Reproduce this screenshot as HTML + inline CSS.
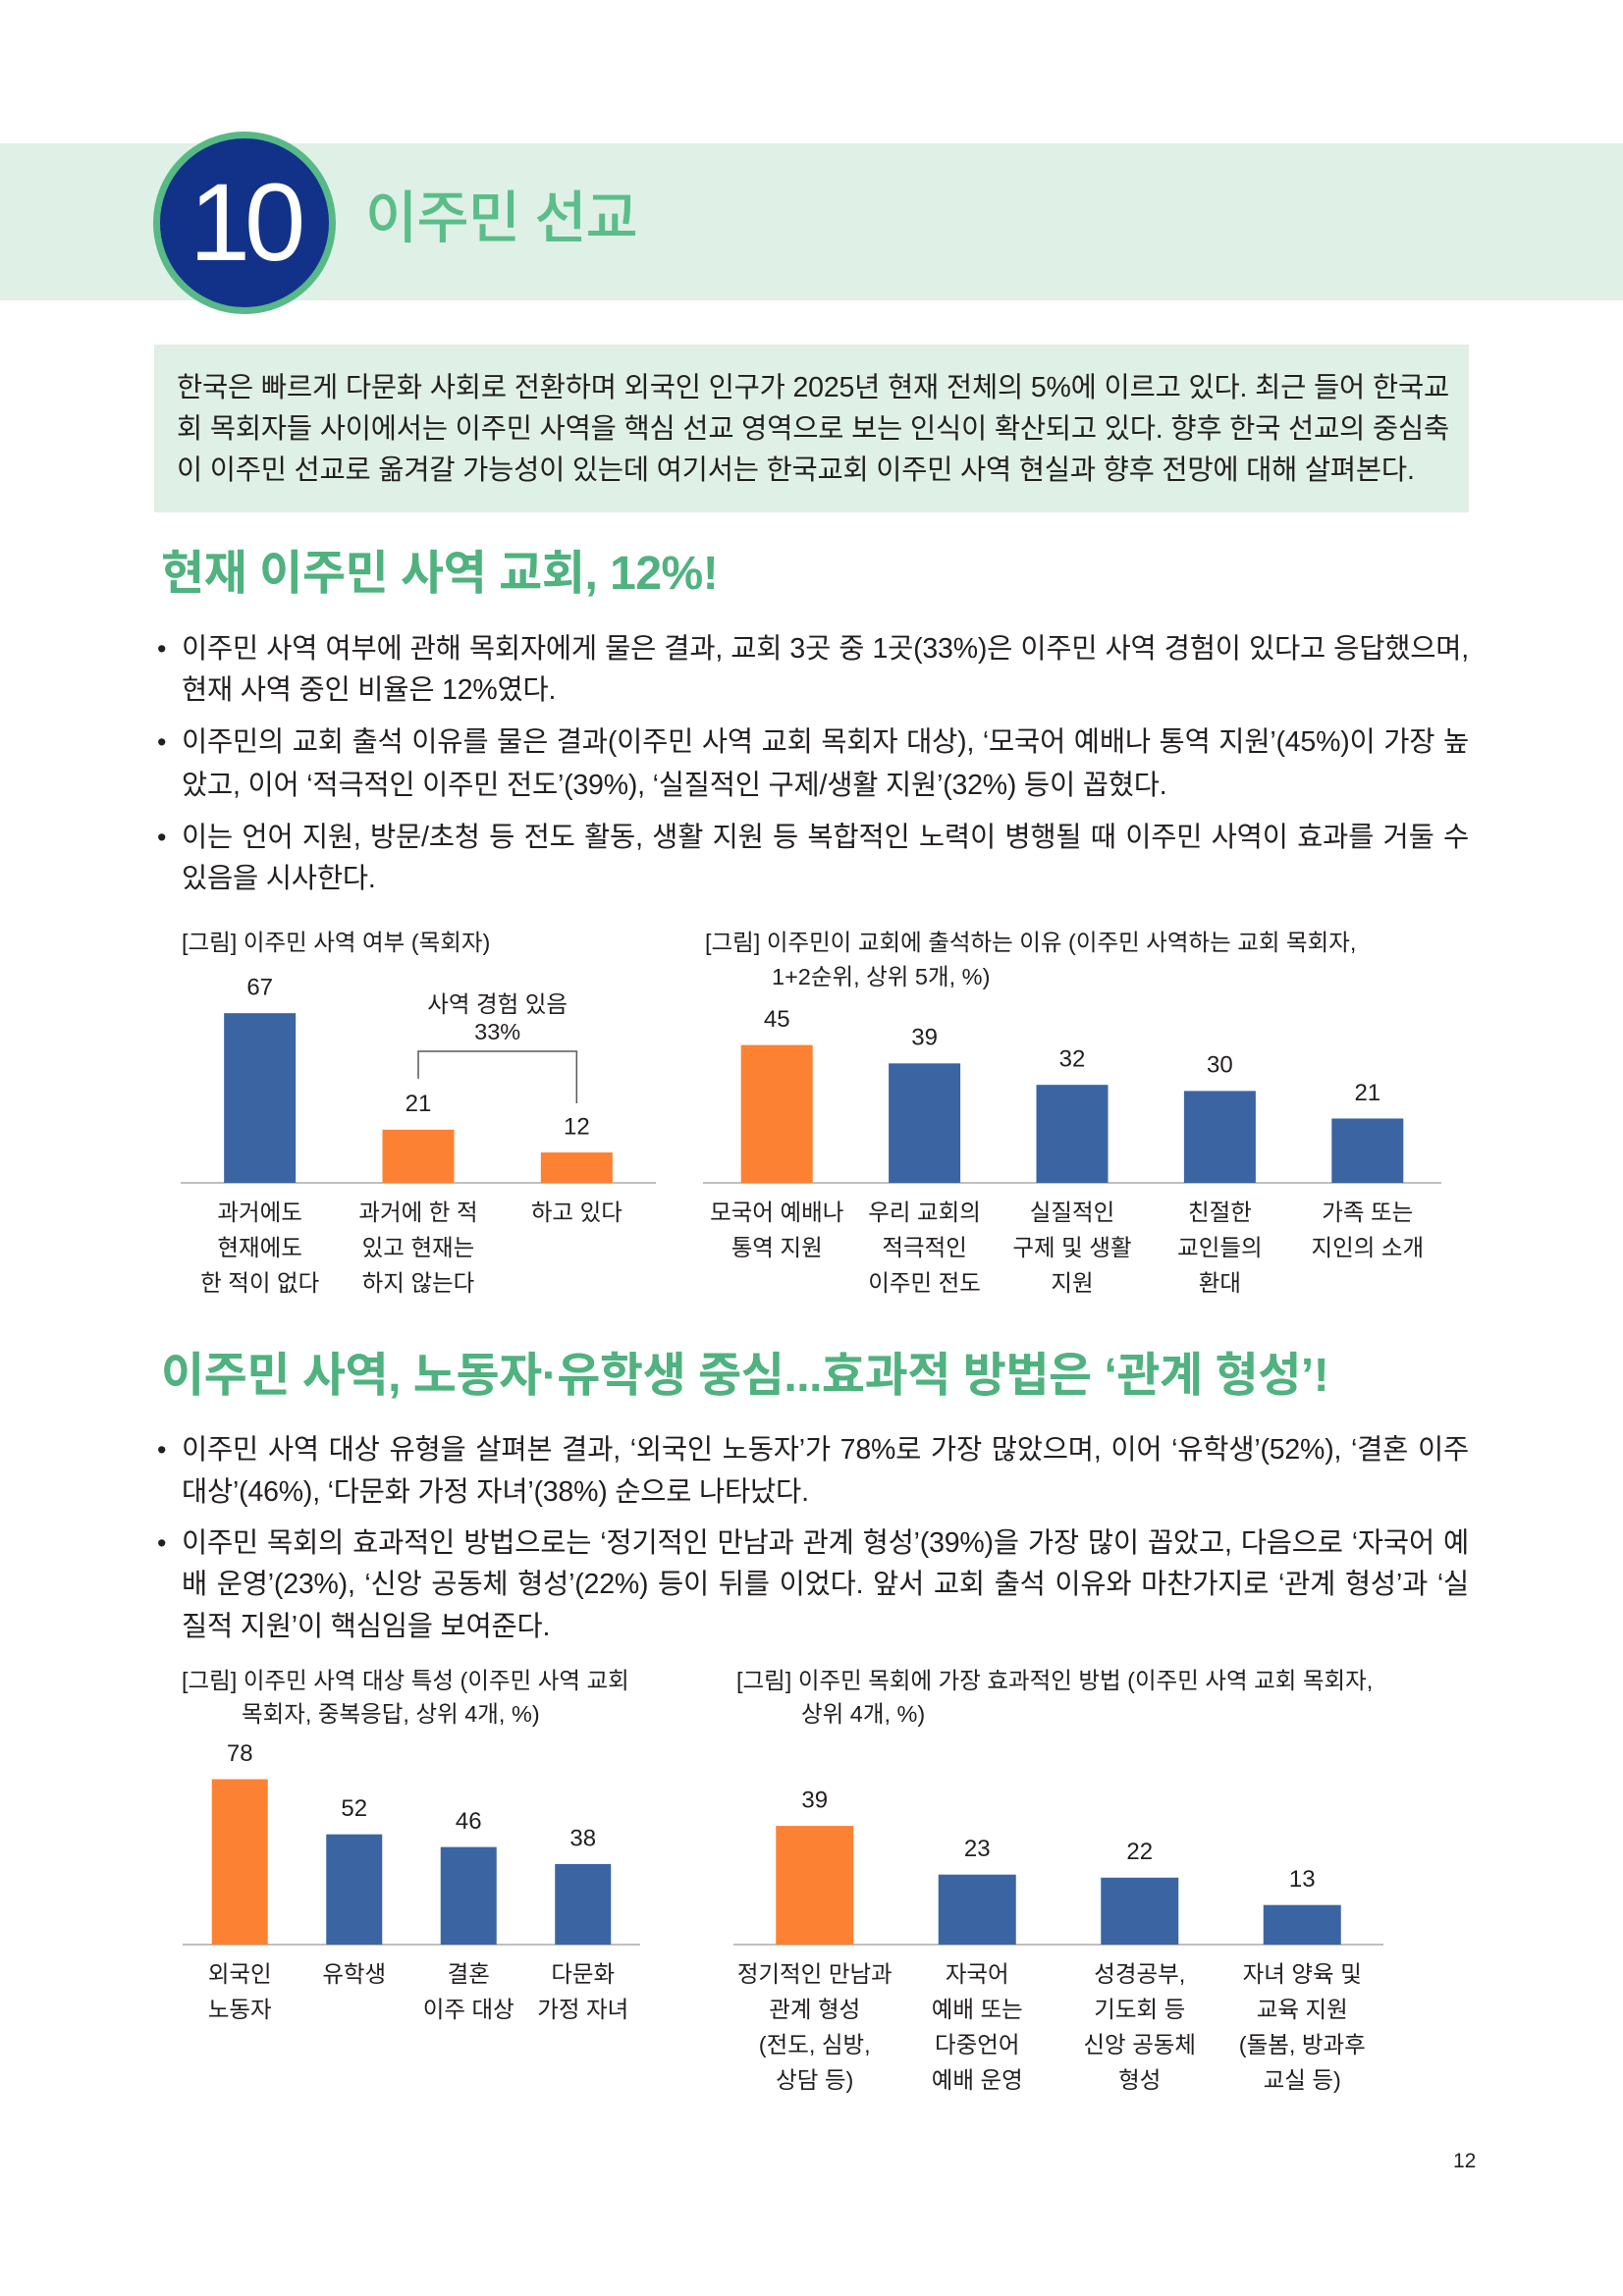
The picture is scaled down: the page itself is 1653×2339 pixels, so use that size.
<!DOCTYPE html>
<html lang="ko"><head><meta charset="utf-8">
<style>
body{margin:0;width:1653px;height:2339px;position:relative;background:#fff;font-family:"Liberation Sans","Noto Sans CJK KR",sans-serif;color:#231f20;overflow:hidden}
.abs{position:absolute}
.band{left:0;top:146px;width:1653px;height:160px;background:#dff0e6}
.circle{left:156px;top:134px;width:172px;height:172px;border-radius:50%;background:#12328a;border:7px solid #57b985;color:#fff;font-size:112px;line-height:172px;text-align:center;letter-spacing:-6px}
.title{left:372px;top:188px;font-size:58px;color:#5bbd8a;line-height:70px;font-weight:500;letter-spacing:-1px}
.intro{left:157px;top:351px;width:1339px;height:171px;background:#dff0e6}
.ln{position:absolute;font-size:28.5px;line-height:36px;letter-spacing:-0.2px;white-space:nowrap}
.j{text-align:justify;text-align-last:justify;white-space:normal}
.h{position:absolute;left:164px;font-size:48px;color:#4fb27f;font-weight:bold;letter-spacing:-0.5px;line-height:56px}
.dot{position:absolute;left:160px;font-size:27px;line-height:36px}
</style></head><body>
<div class="abs band"></div>
<div class="abs circle">10</div>
<div class="abs title">이주민 선교</div>

<div class="abs intro"></div>
<div>
<div class="ln j" style="left:180px;top:377px;width:1296px">한국은 빠르게 다문화 사회로 전환하며 외국인 인구가 2025년 현재 전체의 5%에 이르고 있다. 최근 들어 한국교</div>
<div class="ln j" style="left:180px;top:419px;width:1296px">회 목회자들 사이에서는 이주민 사역을 핵심 선교 영역으로 보는 인식이 확산되고 있다. 향후 한국 선교의 중심축</div>
<div class="ln" style="left:180px;top:461px">이 이주민 선교로 옮겨갈 가능성이 있는데 여기서는 한국교회 이주민 사역 현실과 향후 전망에 대해 살펴본다.</div>
</div>

<div class="h" style="top:557px">현재 이주민 사역 교회, 12%!</div>
<div>
<div class="dot" style="top:643px">•</div>
<div class="ln j" style="left:185px;top:643px;width:1311px">이주민 사역 여부에 관해 목회자에게 물은 결과, 교회 3곳 중 1곳(33%)은 이주민 사역 경험이 있다고 응답했으며,</div>
<div class="ln" style="left:185px;top:685px">현재 사역 중인 비율은 12%였다.</div>
<div class="dot" style="top:738px">•</div>
<div class="ln j" style="left:185px;top:738px;width:1311px">이주민의 교회 출석 이유를 물은 결과(이주민 사역 교회 목회자 대상), ‘모국어 예배나 통역 지원’(45%)이 가장 높</div>
<div class="ln" style="left:185px;top:782px">았고, 이어 ‘적극적인 이주민 전도’(39%), ‘실질적인 구제/생활 지원’(32%) 등이 꼽혔다.</div>
<div class="dot" style="top:835px">•</div>
<div class="ln j" style="left:185px;top:835px;width:1311px">이는 언어 지원, 방문/초청 등 전도 활동, 생활 지원 등 복합적인 노력이 병행될 때 이주민 사역이 효과를 거둘 수</div>
<div class="ln" style="left:185px;top:877px">있음을 시사한다.</div>
</div>

<div class="h" style="top:1374px">이주민 사역, 노동자·유학생 중심...효과적 방법은 ‘관계 형성’!</div>
<div>
<div class="dot" style="top:1459px">•</div>
<div class="ln j" style="left:185px;top:1459px;width:1311px">이주민 사역 대상 유형을 살펴본 결과, ‘외국인 노동자’가 78%로 가장 많았으며, 이어 ‘유학생’(52%), ‘결혼 이주</div>
<div class="ln" style="left:185px;top:1502px">대상’(46%), ‘다문화 가정 자녀’(38%) 순으로 나타났다.</div>
<div class="dot" style="top:1554px">•</div>
<div class="ln j" style="left:185px;top:1554px;width:1311px">이주민 목회의 효과적인 방법으로는 ‘정기적인 만남과 관계 형성’(39%)을 가장 많이 꼽았고, 다음으로 ‘자국어 예</div>
<div class="ln j" style="left:185px;top:1596px;width:1311px">배 운영’(23%), ‘신앙 공동체 형성’(22%) 등이 뒤를 이었다. 앞서 교회 출석 이유와 마찬가지로 ‘관계 형성’과 ‘실</div>
<div class="ln" style="left:185px;top:1639px">질적 지원’이 핵심임을 보여준다.</div>
</div>

<div class="abs" style="left:1480px;top:2190px;font-size:21px">12</div>

<svg class="abs" id="charts" style="left:0;top:0" width="1653" height="2339"
 font-family="Liberation Sans, Noto Sans CJK KR, sans-serif" fill="#231f20"></svg>

<script>
const c1Values = [67, 21, 12];
const c1Labels = [["과거에도","현재에도","한 적이 없다"],["과거에 한 적","있고 현재는","하지 않는다"],["하고 있다"]];
const c1Colors = ["#3a65a2","#fd8133","#fd8133"];
const c2Values = [45, 39, 32, 30, 21];
const c2Labels = [["모국어 예배나","통역 지원"],["우리 교회의","적극적인","이주민 전도"],["실질적인","구제 및 생활","지원"],["친절한","교인들의","환대"],["가족 또는","지인의 소개"]];
const c2Colors = ["#fd8133","#3a65a2","#3a65a2","#3a65a2","#3a65a2"];
const c3Values = [78, 52, 46, 38];
const c3Labels = [["외국인","노동자"],["유학생"],["결혼","이주 대상"],["다문화","가정 자녀"]];
const c3Colors = ["#fd8133","#3a65a2","#3a65a2","#3a65a2"];
const c4Values = [39, 23, 22, 13];
const c4Labels = [["정기적인 만남과","관계 형성","(전도, 심방,","상담 등)"],["자국어","예배 또는","다중언어","예배 운영"],["성경공부,","기도회 등","신앙 공동체","형성"],["자녀 양육 및","교육 지원","(돌봄, 방과후","교실 등)"]];
const c4Colors = ["#fd8133","#3a65a2","#3a65a2","#3a65a2"];

const svg = document.getElementById('charts');
const NS = 'http://www.w3.org/2000/svg';
function mk(tag, attrs, parent){const e=document.createElementNS(NS,tag);for(const k in attrs)e.setAttribute(k,attrs[k]);(parent||svg).appendChild(e);return e;}
function txt(x,y,s,size,anchor,parent){const t=mk('text',{x:x,y:y,'font-size':size,'text-anchor':anchor||'middle','dominant-baseline':'middle'},parent);t.textContent=s;return t;}

function chart(name, cfg){
  const g = mk('g',{});
  
  
  cfg.title.forEach((s,i)=>{const t=txt(cfg.titleX[i], cfg.titleY[i], s, 23.5, 'start', g);
    
    });
  const axis = mk('line',{x1:cfg.x0,x2:cfg.x1,y1:cfg.base,y2:cfg.base,stroke:'#bfbfbf','stroke-width':2},g);
  
  
  const n = cfg.values.length;
  const step = (cfg.x1-cfg.x0)/n;
  const xs = i => cfg.x0 + step*(i+0.5);
  const ys = v => cfg.base - v*cfg.scale;
  cfg.values.forEach((v,i)=>{
    const cx = xs(i);
    const r = mk('rect',{x:cx-cfg.bw/2,y:ys(v),width:cfg.bw,height:cfg.base-ys(v),fill:cfg.colors[i]},g);
    
    
    const vl = txt(cx, ys(v)-25, String(v), 24, 'middle', g);
    
    
    cfg.labels[i].forEach((s,j)=>{
      const t = txt(cx, cfg.base+32+j*36, s, 23.5, 'middle', g);
      
      
    });
  });
  return {g, xs, ys};
}

const a = chart('chart-ministry-status',{title:["[그림] 이주민 사역 여부 (목회자)"],titleX:[185],titleY:[962],
  x0:184,x1:668,base:1205,scale:2.58,bw:73,values:c1Values,labels:c1Labels,colors:c1Colors});
const bx1=a.xs(1), bx2=a.xs(2);
const br = mk('path',{d:`M${bx1} ${a.ys(c1Values[1])-52} V1071 H${bx2} V${a.ys(c1Values[2])-50}`,fill:'none',stroke:'#595959','stroke-width':1.5},a.g);


const b1 = txt((bx1+bx2)/2, 1025, "사역 경험 있음", 23.5, 'middle', a.g);


const b2 = txt((bx1+bx2)/2, 1053, (c1Values[1]+c1Values[2])+"%", 23.5, 'middle', a.g);



chart('chart-attendance-reasons',{title:["[그림] 이주민이 교회에 출석하는 이유 (이주민 사역하는 교회 목회자,","1+2순위, 상위 5개, %)"],titleX:[718,786],titleY:[962,997],
  x0:716,x1:1468,base:1205,scale:3.12,bw:73,values:c2Values,labels:c2Labels,colors:c2Colors});

chart('chart-target-groups',{title:["[그림] 이주민 사역 대상 특성 (이주민 사역 교회","목회자, 중복응답, 상위 4개, %)"],titleX:[185,246],titleY:[1714,1748],
  x0:186,x1:652,base:1981,scale:2.16,bw:57,values:c3Values,labels:c3Labels,colors:c3Colors});

chart('chart-effective-methods',{title:["[그림] 이주민 목회에 가장 효과적인 방법 (이주민 사역 교회 목회자,","상위 4개, %)"],titleX:[750,816],titleY:[1714,1748],
  x0:747,x1:1409,base:1981,scale:3.1,bw:79,values:c4Values,labels:c4Labels,colors:c4Colors});
</script>
</body></html>
